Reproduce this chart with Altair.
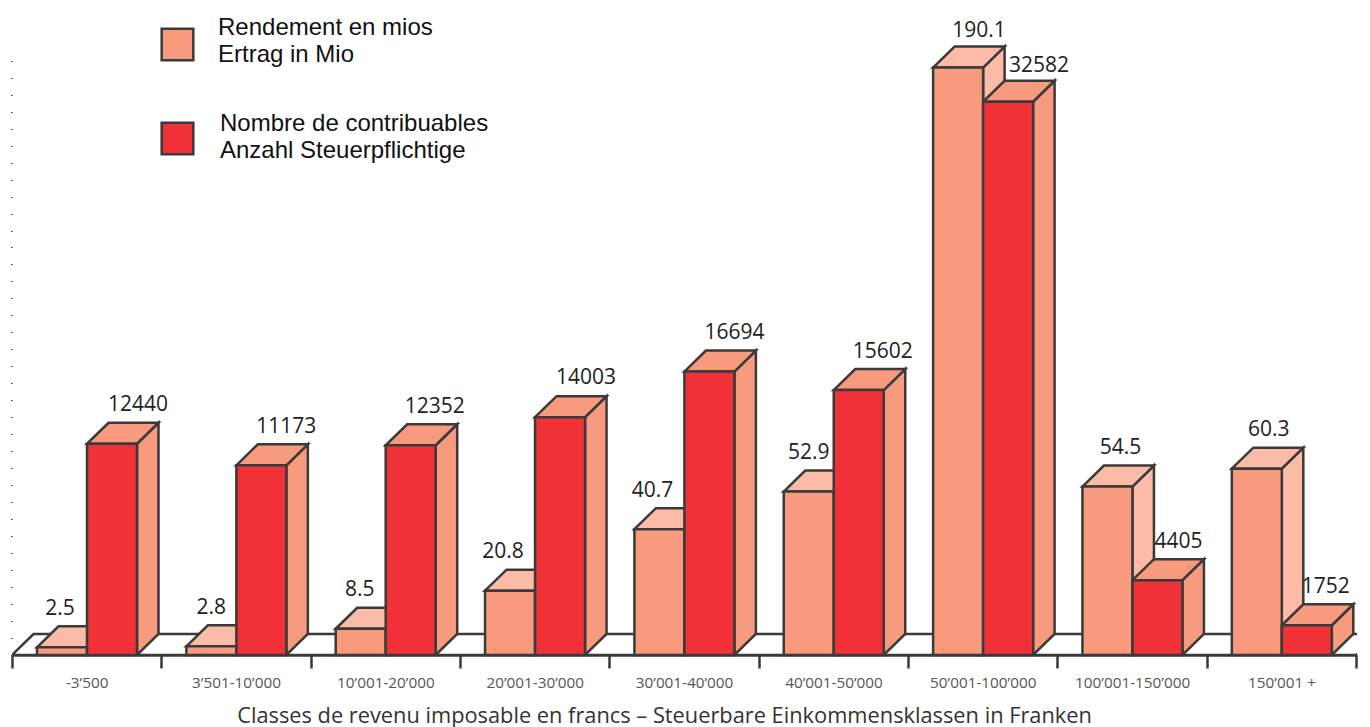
import json
import altair as alt
import pandas as pd

CATEGORIES = ["-3’500", "3’501-10’000", "10’001-20’000", "20’001-30’000", "30’001-40’000",
              "40’001-50’000", "50’001-100’000", "100’001-150’000", "150’001 +"]
RENDEMENT = [2.5, 2.8, 8.5, 20.8, 40.7, 52.9, 190.1, 54.5, 60.3]
CONTRIB = [12440, 11173, 12352, 14003, 16694, 15602, 32582, 4405, 1752]
RENDEMENT_TXT = ["2.5", "2.8", "8.5", "20.8", "40.7", "52.9", "190.1", "54.5", "60.3"]
SERIES = ["Rendement en mios / Ertrag in Mio", "Nombre de contribuables / Anzahl Steuerpflichtige"]
LEGEND_LINES = ["Rendement en mios", "Ertrag in Mio", "Nombre de contribuables", "Anzahl Steuerpflichtige"]
LEGEND_X = [206, 206, 208, 208]
LEGEND_Y = [20, 47, 116, 143]
TITLE = "Classes de revenu imposable en francs – Steuerbare Einkommensklassen in Franken"

# layout (plot units: 1 x-unit = one class, y-unit = one taxpayer)
BAND_PX = 149.35
PX_PER_COUNT = 0.01698
W, H = 1345, 647
MIO_SCALE = 182.0
OFF = 25 / BAND_PX
BW = 50 / BAND_PX
DX = 21.5 / BAND_PX
DY = 21 / PX_PER_COUNT
NUDGE_L = [23, 25, 24, 18, 18, 25, 46, 38, 37]
NUDGE_R = [51, 50, 49, 51, 50, 49, 56, 46, 44]
UP_L = [38.5, 38.5, 38.5, 38.5, 38.5, 39, 36.5, 38.5, 38.5]
UP_R = [39, 38.5, 38.5, 39, 38.5, 38.5, 35.5, 38.5, 38.5]

DARK = "#3a3a3a"
SALMON = "#f89a7e"
LIGHT = "#fbbba6"
RED = "#f03238"


def poly(k, pts):
    return [dict(k=k, p=j, x=a, y=b) for j, (a, b) in enumerate(pts)]


sides, tops, fronts, labels = {0: [], 1: []}, {0: [], 1: []}, [], []
for i in range(len(CATEGORIES)):
    for s, val in enumerate([RENDEMENT[i] * MIO_SCALE, CONTRIB[i]]):
        x0 = i + OFF + s * BW
        k = f"{i}-{s}"
        sides[s] += poly(k, [(x0 + BW, 0), (x0 + BW, val), (x0 + BW + DX, val + DY), (x0 + BW + DX, DY)])
        tops[s] += poly(k, [(x0, val), (x0 + DX, val + DY), (x0 + BW + DX, val + DY), (x0 + BW, val)])
        fronts.append(dict(x=x0, x2=x0 + BW, y=val, y2=0, series=SERIES[s]))
        nudge, up = (NUDGE_R[i], UP_R[i]) if s else (NUDGE_L[i], UP_L[i])
        labels.append(dict(x=x0 + nudge / BAND_PX, y=val + up / PX_PER_COUNT,
                           t=str(CONTRIB[i]) if s else RENDEMENT_TXT[i]))

n = len(CATEGORIES)
ground = poly("g", [(0, 0), (DX, DY), (n + 0.2, DY), (n, 0)])

xs = alt.Scale(domain=[0, W / BAND_PX], nice=False, zero=False)
ys = alt.Scale(domain=[0, H / PX_PER_COUNT], nice=False)
label_expr = json.dumps(CATEGORIES) + "[datum.value] || ''"

x_axis = alt.Axis(values=list(range(n + 1)), labelExpr=label_expr, labelOffset=BAND_PX / 2,
                  labelFont="Open Sans", labelFontSize=15.3, labelColor="#555555", labelPadding=7,
                  labelOverlap=False, labelBound=False, labelFlush=False, labelAngle=0,
                  tickSize=13, tickWidth=2.5, tickColor=DARK, domain=True, domainColor=DARK, domainWidth=2.5,
                  grid=False, title=TITLE, titleFont="Open Sans", titleFontSize=21.8, titleFontWeight="normal",
                  titleColor="#333333", titleX=652, titleY=60, titleAnchor="middle", titleAlign="center",
                  titleBaseline="middle")
y_axis = alt.Axis(values=list(range(0, 36000, 1000)), labels=False, domain=False, grid=False,
                  tickSize=1.5, tickWidth=1.2, tickColor=DARK, title=None)

X = alt.X("x:Q", scale=xs, axis=x_axis)
Y = alt.Y("y:Q", scale=ys, axis=y_axis, stack=None)


def faces(rows, fill):
    return alt.Chart(pd.DataFrame(rows)).mark_line(
        interpolate="linear-closed", filled=True, fill=fill, stroke=DARK, strokeWidth=2.5,
        strokeJoin="miter", clip=True
    ).encode(X, Y, detail="k:N", order="p:Q")


front_layer = alt.Chart(pd.DataFrame(fronts)).mark_rect(stroke=DARK, strokeWidth=2.5).encode(
    X, alt.X2("x2:Q"), Y, alt.Y2("y2:Q"),
    color=alt.Color("series:N", scale=alt.Scale(domain=SERIES, range=[SALMON, RED]),
                    legend=alt.Legend(title=None, orient="none", legendX=148, legendY=19, symbolType="square",
                                      symbolSize=1000, symbolStrokeColor=DARK, symbolStrokeWidth=2.5,
                                      symbolOpacity=1, labelExpr="''", labelFontSize=1, rowPadding=51)))

label_layer = alt.Chart(pd.DataFrame(labels)).mark_text(
    font="Open Sans", fontSize=21, color="#222222", align="center", baseline="middle"
).encode(X, Y, text="t:N")

legend_text = alt.Chart(pd.DataFrame(dict(t=LEGEND_LINES, lx=LEGEND_X, ly=LEGEND_Y))).mark_text(
    font="Liberation Sans", fontSize=24, color="#111111", align="left", baseline="middle"
).encode(
    x=alt.X("lx:Q", scale=None), y=alt.Y("ly:Q", scale=None), text="t:N")

chart = alt.layer(faces(ground, "white"), faces(sides[0], LIGHT), faces(tops[0], LIGHT),
                  faces(sides[1], SALMON), faces(tops[1], SALMON), front_layer, label_layer,
                  legend_text).properties(
    width=W, height=H, autosize=alt.AutoSizeParams(type="none"),
    padding={"left": 4, "top": 0, "right": 5, "bottom": 72}, background="white"
).configure_view(stroke=None)

chart.save("out.html", embed_options={"renderer": "svg", "actions": False})
